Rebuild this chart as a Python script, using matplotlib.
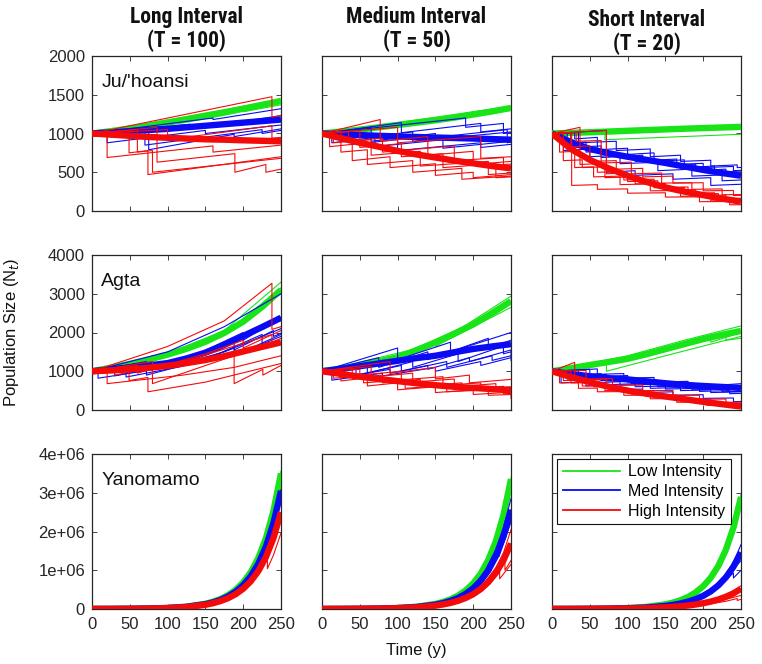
import matplotlib
matplotlib.use("Agg")
import matplotlib.pyplot as plt
from matplotlib.lines import Line2D
from matplotlib import font_manager

plt.rcParams['font.family'] = ['Liberation Sans', 'DejaVu Sans']

# ---------------- data ----------------
COL_TITLES = ["Long Interval\n(T = 100)", "Medium Interval\n(T = 50)", "Short Interval\n(T = 20)"]
ROW_NAMES = ["Ju/'hoansi", "Agta", "Yanomamo"]
SERIES_LABELS = ["Low Intensity", "Med Intensity", "High Intensity"]
X_TICKS = [0, 50, 100, 150, 200, 250]
Y_TICKS_ROW = [[0, 500, 1000, 1500, 2000],
               [0, 1000, 2000, 3000, 4000],
               [0, 1e6, 2e6, 3e6, 4e6]]
Y_TICKLABELS_ROW = [["0", "500", "1000", "1500", "2000"],
                    ["0", "1000", "2000", "3000", "4000"],
                    ["0", "1e+06", "2e+06", "3e+06", "4e+06"]]

T_GRID = [0, 25, 50, 75, 100, 125, 150, 175, 200, 225, 250]
YANO_T = [0, 25, 50, 75, 100, 125, 150, 160, 170, 180, 190, 200, 210, 220, 230, 240, 250]

# Ju/'hoansi  (mean trajectories)
JU_LONG_LOW = [1000, 1030, 1065, 1100, 1140, 1180, 1225, 1270, 1320, 1370, 1420]
JU_LONG_MED = [1000, 1015, 1030, 1045, 1060, 1080, 1100, 1120, 1140, 1160, 1180]
JU_LONG_HIGH = [1000, 985, 970, 955, 945, 935, 925, 920, 912, 906, 900]
JU_MED_LOW = [1000, 1025, 1050, 1080, 1110, 1140, 1170, 1205, 1245, 1285, 1330]
JU_MED_MED = [1000, 990, 980, 970, 962, 955, 948, 942, 935, 928, 920]
JU_MED_HIGH = [1000, 940, 880, 830, 775, 730, 690, 650, 615, 580, 550]
JU_SHORT_LOW = [1000, 1008, 1016, 1025, 1035, 1044, 1053, 1062, 1070, 1078, 1085]
JU_SHORT_MED = [1000, 890, 800, 745, 700, 660, 620, 575, 530, 490, 455]
JU_SHORT_HIGH = [1000, 800, 660, 550, 455, 375, 305, 250, 205, 160, 120]

# Agta
AG_LONG_LOW = [1000, 1090, 1190, 1300, 1430, 1580, 1760, 1990, 2280, 2660, 3100]
AG_LONG_MED = [1000, 1050, 1100, 1150, 1210, 1330, 1480, 1680, 1910, 2140, 2380]
AG_LONG_HIGH = [1000, 1020, 1050, 1090, 1140, 1210, 1290, 1390, 1510, 1630, 1745]
AG_MED_LOW = [1000, 1070, 1150, 1250, 1360, 1540, 1745, 1970, 2210, 2500, 2810]
AG_MED_MED = [1000, 1060, 1130, 1200, 1270, 1340, 1400, 1490, 1575, 1640, 1700]
AG_MED_HIGH = [1000, 930, 860, 800, 745, 690, 640, 600, 570, 540, 510]
AG_SHORT_LOW = [1000, 1080, 1160, 1240, 1320, 1440, 1570, 1700, 1830, 1940, 2040]
AG_SHORT_MED = [1000, 930, 870, 820, 790, 740, 690, 650, 620, 595, 570]
AG_SHORT_HIGH = [1000, 850, 720, 600, 500, 420, 350, 280, 210, 150, 90]

# Yanomamo
YA_LONG_LOW = [1000, 2270, 5130, 11600, 26200, 59300, 134000, 186000, 257000, 357000, 494000,
               685000, 949000, 1315000, 1823000, 2526000, 3500000]
YA_LONG_MED = [1000, 2240, 4990, 11130, 24800, 55300, 123400, 170000, 234000, 323000, 445000,
               613000, 845000, 1165000, 1606000, 2213000, 3050000]
YA_LONG_HIGH = [1000, 2190, 4780, 10460, 22870, 50000, 109400, 149600, 205000, 280000, 382000,
                523000, 715000, 978000, 1337000, 1828000, 2500000]
YA_MED_LOW = [1000, 2255, 5080, 11430, 25730, 57900, 130400, 180400, 249600, 345000, 478000,
              661000, 914000, 1265000, 1750000, 2421000, 3350000]
YA_MED_MED = [1000, 2196, 4810, 10540, 23100, 50600, 110900, 151800, 207700, 284000, 389000,
              533000, 729000, 998000, 1366000, 1870000, 2560000]
YA_MED_HIGH = [1000, 2103, 4420, 9300, 19560, 41140, 86500, 116500, 156800, 211000, 284100,
               382400, 514700, 692900, 932700, 1255500, 1690000]
YA_SHORT_LOW = [1000, 2236, 4955, 10980, 24330, 53900, 119500, 164300, 225900, 310700, 427300,
                587600, 808000, 1111000, 1528000, 2101500, 2890000]
YA_SHORT_MED = [1000, 2080, 4310, 8930, 18500, 38300, 79300, 106200, 142100, 190100, 254300,
                340300, 455400, 609400, 815400, 1091100, 1460000]
YA_SHORT_HIGH = [1000, 1877, 3505, 6550, 12230, 22850, 42700, 54800, 70400, 90300, 116000,
                 149000, 191300, 245600, 315400, 405000, 520000]

# individual simulation runs: (time, population) breakpoints
JU_LONG_LOW_RUNS = [
    [(0, 1000), (250, 1440)],
    [(0, 1000), (120, 1180), (120, 1150), (250, 1400)],
    [(0, 1000), (200, 1310), (200, 1280), (250, 1370)],
]
JU_LONG_MED_RUNS = [
    [(0, 1000), (20, 1010), (20, 880), (150, 1040), (150, 1000), (250, 1110)],
    [(0, 1000), (75, 1070), (75, 790), (188, 990), (188, 960), (250, 1060)],
    [(0, 1000), (70, 1060), (70, 850), (225, 1050), (225, 1000), (250, 1040)],
    [(0, 1000), (160, 1200), (160, 1180), (250, 1320)],
    [(0, 1000), (130, 1120), (130, 1060), (250, 1230)],
]
JU_LONG_HIGH_RUNS = [
    [(0, 1000), (238, 1475), (238, 1210), (250, 1235)],
    [(0, 1000), (20, 1010), (20, 690), (160, 840), (160, 760), (250, 850)],
    [(0, 1000), (49, 1040), (49, 750), (74, 780), (74, 470), (250, 700)],
    [(0, 1000), (86, 1080), (86, 630), (189, 740), (189, 500), (230, 600), (230, 500), (250, 540)],
    [(0, 1000), (100, 1050), (100, 920), (238, 1100), (238, 940), (250, 950)],
    [(0, 1000), (60, 1050), (60, 760), (80, 780), (80, 500), (250, 680)],
]
JU_MED_LOW_RUNS = [
    [(0, 1000), (250, 1350)],
    [(0, 1000), (160, 1210), (160, 1180), (250, 1300)],
    [(0, 1000), (140, 1190), (140, 1150), (250, 1320)],
]
JU_MED_MED_RUNS = [
    [(0, 1000), (13, 1010), (13, 880), (70, 950), (70, 830), (160, 920), (160, 810), (250, 900)],
    [(0, 1000), (40, 1040), (40, 860), (100, 920), (100, 780), (210, 880), (210, 820), (250, 860)],
    [(0, 1000), (105, 1140), (105, 1010), (210, 1130), (210, 1020), (250, 1060)],
    [(0, 1000), (65, 1080), (65, 900), (150, 1000), (150, 950), (245, 1050), (245, 880), (250, 890)],
    [(0, 1000), (30, 1020), (30, 930), (120, 1020), (120, 900), (250, 1020)],
    [(0, 1000), (190, 1200), (190, 1080), (240, 1130), (240, 1000), (250, 1010)],
]
JU_MED_HIGH_RUNS = [
    [(0, 1000), (10, 1010), (10, 830), (40, 860), (40, 650), (90, 700), (90, 560), (150, 610),
     (150, 460), (200, 500), (200, 430), (250, 470)],
    [(0, 1000), (77, 1180), (77, 900), (140, 960), (140, 720), (200, 770), (200, 600), (250, 640)],
    [(0, 1000), (25, 1030), (25, 760), (60, 790), (60, 600), (120, 650), (120, 500), (185, 550),
     (185, 410), (250, 450)],
    [(0, 1000), (50, 1040), (50, 820), (105, 870), (105, 700), (160, 740), (160, 560), (230, 610),
     (230, 430), (250, 440)],
    [(0, 1000), (35, 1020), (35, 900), (80, 940), (80, 760), (175, 840), (175, 650), (240, 690),
     (240, 600), (250, 605)],
    [(0, 1000), (100, 1080), (100, 880), (210, 960), (210, 680), (250, 700)],
    [(0, 1000), (15, 1010), (15, 880), (65, 920), (65, 720), (130, 770), (130, 580), (220, 640),
     (220, 470), (250, 490)],
]
JU_SHORT_LOW_RUNS = [
    [(0, 1000), (250, 1110)],
    [(0, 1000), (70, 1030), (70, 920), (250, 990)],
    [(0, 1000), (130, 1060), (130, 1020), (250, 1070)],
    [(0, 1000), (190, 1090), (190, 1050), (250, 1070)],
    [(0, 1000), (250, 1060)],
]
JU_SHORT_MED_RUNS = [
    [(0, 1000), (20, 1010), (20, 870), (45, 890), (45, 760), (75, 780), (75, 700), (110, 720),
     (110, 640), (150, 660), (150, 590), (190, 605), (190, 520), (230, 540), (230, 470), (250, 480)],
    [(0, 1000), (30, 1010), (30, 930), (60, 950), (60, 790), (100, 810), (100, 730), (135, 750),
     (135, 640), (175, 660), (175, 560), (215, 580), (215, 500), (250, 515)],
    [(0, 1000), (72, 1040), (72, 500), (110, 520), (110, 460), (160, 480), (160, 410), (210, 430),
     (210, 330), (250, 345)],
    [(0, 1000), (25, 1010), (25, 820), (65, 840), (65, 690), (120, 720), (120, 650), (165, 670),
     (165, 600), (200, 615), (200, 560), (240, 575), (240, 520), (250, 525)],
    [(0, 1000), (15, 1005), (15, 780), (50, 800), (50, 700), (90, 720), (90, 610), (140, 630),
     (140, 520), (185, 540), (185, 450), (225, 465), (225, 390), (250, 400)],
    [(0, 1000), (35, 1015), (35, 880), (85, 900), (85, 780), (130, 800), (130, 700), (170, 720),
     (170, 640), (210, 655), (210, 580), (245, 595), (245, 560), (250, 562)],
]
JU_SHORT_HIGH_RUNS = [
    [(0, 1000), (10, 1005), (10, 760), (30, 770), (30, 560), (55, 570), (55, 440), (90, 450),
     (90, 340), (130, 350), (130, 260), (170, 265), (170, 190), (210, 195), (210, 130), (250, 135)],
    [(0, 1000), (37, 1080), (37, 600), (60, 610), (60, 500), (95, 510), (95, 400), (135, 410),
     (135, 300), (180, 310), (180, 220), (220, 225), (220, 150), (250, 152)],
    [(0, 1000), (72, 1040), (72, 480), (100, 490), (100, 380), (140, 390), (140, 300), (175, 305),
     (175, 230), (215, 235), (215, 160), (250, 165)],
    [(0, 1000), (26, 1010), (26, 330), (60, 340), (60, 280), (100, 285), (100, 230), (150, 235),
     (150, 180), (195, 182), (195, 120), (235, 122), (235, 80), (250, 81)],
    [(0, 1000), (25, 1010), (25, 830), (50, 840), (50, 640), (85, 650), (85, 540), (120, 550),
     (120, 440), (160, 450), (160, 360), (200, 365), (200, 260), (240, 265), (240, 200), (250, 202)],
    [(0, 1000), (15, 1005), (15, 650), (40, 660), (40, 560), (70, 570), (70, 430), (110, 440),
     (110, 350), (150, 355), (150, 270), (190, 275), (190, 200), (230, 205), (230, 140), (250, 142)],
    [(0, 1000), (32, 1020), (32, 900), (65, 910), (65, 620), (105, 630), (105, 480), (145, 490),
     (145, 360), (185, 365), (185, 280), (225, 285), (225, 210), (250, 212)],
]

AG_LONG_LOW_RUNS = [
    [(0, 1000), (100, 1460), (175, 2050), (250, 3300)],
    [(0, 1000), (100, 1400), (175, 1960), (250, 3000)],
    [(0, 1000), (100, 1440), (170, 1950), (170, 1880), (250, 3150)],
]
AG_LONG_MED_RUNS = [
    [(0, 1000), (8, 1010), (8, 820), (100, 1100), (175, 1500), (250, 2100)],
    [(0, 1000), (45, 1100), (45, 850), (120, 1130), (188, 1600), (188, 1400), (250, 1950)],
    [(0, 1000), (72, 1250), (72, 900), (150, 1300), (225, 1950), (225, 1700), (250, 1900)],
    [(0, 1000), (100, 1500), (175, 2150), (250, 3000)],
    [(0, 1000), (30, 1080), (30, 880), (110, 1200), (188, 1800), (188, 1550), (240, 2050),
     (240, 1900), (250, 1980)],
    [(0, 1000), (60, 1200), (60, 1000), (140, 1450), (200, 2000), (200, 1800), (250, 2400)],
]
AG_LONG_HIGH_RUNS = [
    [(0, 1000), (100, 1640), (175, 2300), (238, 3270), (238, 2080), (250, 2150)],
    [(0, 1000), (20, 1020), (20, 680), (120, 900), (188, 1100), (250, 1400)],
    [(0, 1000), (80, 1250), (80, 680), (188, 1400), (188, 680), (226, 1050), (226, 900), (250, 1150)],
    [(0, 1000), (49, 1150), (49, 760), (74, 840), (74, 470), (150, 720), (250, 1200)],
    [(0, 1000), (60, 1150), (60, 950), (150, 1450), (200, 1800), (200, 1600), (250, 2050)],
    [(0, 1000), (30, 1050), (30, 900), (130, 1300), (238, 1950), (238, 1750), (250, 1850)],
]
AG_MED_LOW_RUNS = [
    [(0, 1000), (100, 1420), (175, 2000), (250, 2940)],
    [(0, 1000), (150, 1700), (150, 1640), (250, 2650)],
    [(0, 1000), (100, 1380), (200, 2250), (200, 2150), (250, 2750)],
]
AG_MED_MED_RUNS = [
    [(0, 1000), (13, 1020), (13, 770), (80, 950), (80, 880), (150, 1100), (150, 1000), (210, 1250),
     (210, 1150), (250, 1350)],
    [(0, 1000), (45, 1100), (45, 900), (105, 1150), (105, 1000), (165, 1250), (165, 1100),
     (225, 1400), (225, 1280), (250, 1400)],
    [(0, 1000), (100, 1600), (100, 1300), (170, 1750), (170, 1500), (250, 2000)],
    [(0, 1000), (30, 1050), (30, 850), (90, 1050), (90, 950), (140, 1150), (140, 1050), (195, 1350),
     (195, 1250), (250, 1550), (250, 1280)],
    [(0, 1000), (60, 1200), (60, 950), (120, 1250), (120, 1100), (180, 1450), (180, 1250),
     (240, 1650), (240, 1450), (250, 1500)],
    [(0, 1000), (75, 1350), (75, 1100), (140, 1500), (140, 1300), (220, 1850), (220, 1600), (250, 1800)],
]
AG_MED_HIGH_RUNS = [
    [(0, 1000), (25, 1050), (25, 750), (60, 830), (60, 620), (100, 700), (100, 520), (150, 600),
     (150, 450), (200, 520), (200, 400), (250, 460)],
    [(0, 1000), (40, 1100), (40, 830), (80, 900), (80, 700), (130, 790), (130, 620), (185, 700),
     (185, 540), (240, 610), (240, 420), (250, 430)],
    [(0, 1000), (90, 1250), (90, 950), (150, 1100), (150, 800), (195, 900), (195, 700), (250, 790)],
    [(0, 1000), (15, 1020), (15, 820), (55, 880), (55, 700), (110, 780), (110, 560), (165, 630),
     (165, 470), (220, 520), (220, 380), (250, 400)],
    [(0, 1000), (65, 1120), (65, 850), (120, 950), (120, 720), (175, 800), (175, 600), (230, 680),
     (230, 500), (250, 520)],
    [(0, 1000), (50, 1050), (50, 900), (105, 1000), (105, 780), (160, 860), (160, 640), (210, 700),
     (210, 560), (250, 600), (250, 300)],
]
AG_SHORT_LOW_RUNS = [
    [(0, 1000), (100, 1400), (175, 1800), (250, 2170)],
    [(0, 1000), (60, 1200), (60, 1150), (150, 1600), (210, 1850), (210, 1750), (250, 2000)],
    [(0, 1000), (100, 1350), (180, 1750), (230, 2000), (230, 1800), (250, 1850)],
    [(0, 1000), (72, 1200), (72, 1000), (150, 1400), (250, 1900)],
]
AG_SHORT_MED_RUNS = [
    [(0, 1000), (20, 1005), (20, 800), (50, 830), (50, 700), (90, 730), (90, 640), (130, 660),
     (130, 560), (170, 580), (170, 500), (210, 520), (210, 450), (250, 470)],
    [(0, 1000), (35, 1020), (35, 880), (72, 920), (72, 650), (110, 680), (110, 600), (150, 620),
     (150, 540), (195, 560), (195, 480), (235, 500), (235, 420), (250, 430)],
    [(0, 1000), (12, 1005), (12, 700), (45, 730), (45, 620), (80, 640), (80, 520), (120, 540),
     (120, 450), (160, 470), (160, 380), (200, 395), (200, 300), (240, 310), (240, 215), (250, 220)],
    [(0, 1000), (50, 1050), (50, 850), (100, 890), (100, 720), (150, 760), (150, 640), (190, 670),
     (190, 600), (250, 680)],
    [(0, 1000), (25, 1010), (25, 900), (65, 940), (65, 760), (105, 790), (105, 680), (140, 700),
     (140, 600), (185, 620), (185, 520), (225, 540), (225, 470), (250, 480)],
    [(0, 1000), (60, 1060), (60, 920), (95, 940), (95, 820), (135, 840), (135, 720), (180, 740),
     (180, 620), (220, 640), (220, 540), (250, 560)],
]
AG_SHORT_HIGH_RUNS = [
    [(0, 1000), (15, 1005), (15, 760), (40, 770), (40, 620), (70, 630), (70, 500), (105, 505),
     (105, 410), (140, 415), (140, 320), (180, 322), (180, 240), (215, 242), (215, 160), (250, 162)],
    [(0, 1000), (30, 1230), (30, 780), (72, 800), (72, 560), (100, 565), (100, 450), (135, 455),
     (135, 360), (170, 362), (170, 260), (210, 262), (210, 170), (250, 172)],
    [(0, 1000), (10, 1002), (10, 700), (35, 705), (35, 560), (60, 565), (60, 470), (95, 475),
     (95, 380), (130, 382), (130, 290), (165, 292), (165, 200), (205, 202), (205, 120), (240, 121),
     (240, 60), (250, 61)],
    [(0, 1000), (45, 1020), (45, 800), (80, 810), (80, 640), (120, 645), (120, 500), (160, 505),
     (160, 380), (195, 382), (195, 280), (230, 282), (230, 200), (250, 201)],
    [(0, 1000), (25, 1008), (25, 700), (55, 705), (55, 600), (90, 605), (90, 480), (125, 485),
     (125, 380), (165, 383), (165, 280), (200, 282), (200, 190), (240, 192), (240, 100), (250, 101)],
]

YA_LONG_LOW_RUNS = [
    [(0, 1000), (100, 26500), (150, 136000), (175, 300000), (200, 700000), (215, 1130000),
     (230, 1850000), (240, 2570000), (250, 3560000)],
    [(0, 1000), (100, 25800), (150, 132000), (175, 290000), (200, 670000), (215, 1090000),
     (230, 1790000), (240, 2480000), (250, 3440000)],
]
YA_LONG_MED_RUNS = [
    [(0, 1000), (100, 25000), (150, 124000), (175, 275000), (200, 615000), (215, 990000),
     (230, 1610000), (240, 2220000), (250, 3080000)],
    [(0, 1000), (100, 24300), (150, 121000), (175, 268000), (200, 600000), (215, 965000),
     (230, 1570000), (240, 2170000), (250, 2990000)],
    [(0, 1000), (100, 24600), (150, 122000), (175, 270000), (200, 605000), (215, 975000),
     (230, 1590000), (238, 2040000), (238, 1800000), (250, 2420000)],
]
YA_LONG_HIGH_RUNS = [
    [(0, 1000), (100, 23000), (150, 110000), (175, 240000), (200, 525000), (215, 840000),
     (232, 1450000), (232, 1040000), (240, 1390000), (250, 1960000)],
    [(0, 1000), (100, 22500), (150, 108000), (175, 236000), (200, 515000), (215, 825000),
     (230, 1310000), (240, 1800000), (250, 2470000)],
]
YA_MED_LOW_RUNS = [
    [(0, 1000), (100, 26000), (150, 131000), (175, 290000), (200, 665000), (215, 1080000),
     (230, 1760000), (240, 2440000), (250, 3380000)],
    [(0, 1000), (100, 25400), (150, 128000), (175, 283000), (200, 650000), (215, 1055000),
     (230, 1720000), (240, 2380000), (250, 3300000)],
]
YA_MED_MED_RUNS = [
    [(0, 1000), (100, 24500), (150, 120000), (175, 262000), (200, 590000), (215, 960000),
     (230, 1540000), (240, 2100000), (250, 2850000)],
    [(0, 1000), (100, 23200), (150, 111000), (175, 243000), (200, 535000), (215, 860000),
     (230, 1370000), (240, 1870000), (250, 2560000)],
    [(0, 1000), (100, 23000), (150, 110000), (175, 240000), (200, 530000), (215, 850000),
     (234, 1560000), (234, 1350000), (250, 2250000)],
]
YA_MED_HIGH_RUNS = [
    [(0, 1000), (100, 19600), (150, 87000), (175, 181000), (200, 384000), (215, 600000),
     (230, 935000), (240, 1260000), (250, 1690000)],
    [(0, 1000), (100, 21000), (150, 95000), (175, 200000), (200, 430000), (215, 680000),
     (230, 1070000), (240, 1450000), (250, 2050000)],
    [(0, 1000), (100, 19000), (150, 84000), (175, 175000), (200, 370000), (215, 580000),
     (235, 1050000), (235, 780000), (250, 1150000)],
    [(0, 1000), (100, 19300), (150, 85000), (175, 178000), (200, 375000), (215, 590000),
     (230, 920000), (242, 1300000), (242, 1000000), (250, 1250000)],
]
YA_SHORT_LOW_RUNS = [
    [(0, 1000), (100, 24800), (150, 122000), (175, 268000), (200, 600000), (215, 950000),
     (230, 1560000), (240, 2150000), (250, 2960000)],
    [(0, 1000), (100, 24000), (150, 117000), (175, 258000), (200, 578000), (215, 925000),
     (230, 1500000), (240, 2060000), (250, 2840000)],
]
YA_SHORT_MED_RUNS = [
    [(0, 1000), (100, 19500), (150, 86000), (175, 178000), (200, 375000), (215, 580000),
     (230, 900000), (240, 1210000), (250, 1660000)],
    [(0, 1000), (100, 18000), (150, 78000), (175, 160000), (200, 335000), (215, 520000),
     (230, 800000), (240, 1070000), (250, 1450000)],
    [(0, 1000), (100, 17500), (150, 75000), (175, 152000), (200, 318000), (215, 490000),
     (230, 760000), (240, 930000), (240, 800000), (250, 1000000)],
    [(0, 1000), (100, 18000), (150, 77000), (175, 158000), (200, 330000), (215, 505000),
     (230, 780000), (240, 1020000), (250, 1250000)],
]
YA_SHORT_HIGH_RUNS = [
    [(0, 1000), (100, 13000), (150, 46000), (175, 82000), (200, 160000), (215, 225000),
     (230, 345000), (240, 450000), (250, 600000)],
    [(0, 1000), (100, 12000), (150, 42000), (175, 74000), (200, 145000), (215, 210000),
     (230, 310000), (240, 400000), (250, 520000)],
    [(0, 1000), (100, 11500), (150, 39000), (175, 66000), (200, 125000), (215, 175000),
     (230, 250000), (240, 300000), (250, 350000)],
    [(0, 1000), (100, 11000), (150, 36000), (175, 60000), (200, 110000), (215, 150000),
     (230, 200000), (245, 270000), (245, 220000), (250, 250000)],
]

# ---------------- styling ----------------
COLORS = ['#18e418', '#0a0af5', '#f50a0a']
INK = '#262626'

PANELS = [
    [(T_GRID, [JU_LONG_LOW, JU_LONG_MED, JU_LONG_HIGH], [JU_LONG_LOW_RUNS, JU_LONG_MED_RUNS, JU_LONG_HIGH_RUNS]),
     (T_GRID, [JU_MED_LOW, JU_MED_MED, JU_MED_HIGH], [JU_MED_LOW_RUNS, JU_MED_MED_RUNS, JU_MED_HIGH_RUNS]),
     (T_GRID, [JU_SHORT_LOW, JU_SHORT_MED, JU_SHORT_HIGH], [JU_SHORT_LOW_RUNS, JU_SHORT_MED_RUNS, JU_SHORT_HIGH_RUNS])],
    [(T_GRID, [AG_LONG_LOW, AG_LONG_MED, AG_LONG_HIGH], [AG_LONG_LOW_RUNS, AG_LONG_MED_RUNS, AG_LONG_HIGH_RUNS]),
     (T_GRID, [AG_MED_LOW, AG_MED_MED, AG_MED_HIGH], [AG_MED_LOW_RUNS, AG_MED_MED_RUNS, AG_MED_HIGH_RUNS]),
     (T_GRID, [AG_SHORT_LOW, AG_SHORT_MED, AG_SHORT_HIGH], [AG_SHORT_LOW_RUNS, AG_SHORT_MED_RUNS, AG_SHORT_HIGH_RUNS])],
    [(YANO_T, [YA_LONG_LOW, YA_LONG_MED, YA_LONG_HIGH], [YA_LONG_LOW_RUNS, YA_LONG_MED_RUNS, YA_LONG_HIGH_RUNS]),
     (YANO_T, [YA_MED_LOW, YA_MED_MED, YA_MED_HIGH], [YA_MED_LOW_RUNS, YA_MED_MED_RUNS, YA_MED_HIGH_RUNS]),
     (YANO_T, [YA_SHORT_LOW, YA_SHORT_MED, YA_SHORT_HIGH], [YA_SHORT_LOW_RUNS, YA_SHORT_MED_RUNS, YA_SHORT_HIGH_RUNS])],
]

# pick a condensed bold face for the column titles if one is installed
_available = {f.name for f in font_manager.fontManager.ttflist}
TITLE_FAMILY = None
for cand in ['Liberation Sans Narrow', 'Roboto Condensed', 'DejaVu Sans Condensed',
             'Open Sans Condensed', 'Noto Sans Condensed']:
    if cand in _available:
        TITLE_FAMILY = cand
        break
if TITLE_FAMILY is None:
    TITLE_FAMILY = 'DejaVu Sans'
    TITLE_STRETCH = 'condensed'
else:
    TITLE_STRETCH = 'normal'

W, H = 762, 664
fig = plt.figure(figsize=(W / 100, H / 100), dpi=100)

LEFTS_PX = [92, 322, 552]
TOPS_PX = [56, 255, 454]
AX_W_PX, AX_H_PX = 189, 155

axes = []
for r in range(3):
    row = []
    for c in range(3):
        ax = fig.add_axes([LEFTS_PX[c] / W, 1 - (TOPS_PX[r] + AX_H_PX) / H, AX_W_PX / W, AX_H_PX / H])
        tgrid, means, runs = PANELS[r][c]
        for k in range(3):
            for run in runs[k]:
                ts = [p[0] for p in run]
                vs = [p[1] for p in run]
                ax.plot(ts, vs, color=COLORS[k], lw=0.8, zorder=2 + 2 * k)
            ax.plot(tgrid, means[k], color=COLORS[k], lw=4.6, solid_capstyle='butt',
                    zorder=3 + 2 * k)
        ax.set_xlim(0, 250)
        ax.set_ylim(Y_TICKS_ROW[r][0], Y_TICKS_ROW[r][-1])
        ax.set_xticks(X_TICKS)
        ax.set_yticks(Y_TICKS_ROW[r])
        ax.tick_params(direction='in', top=True, right=True, length=3.5, width=0.6,
                       colors=INK, labelsize=12, labelcolor=INK)
        ax.tick_params(axis='x', pad=6)
        ax.tick_params(axis='y', pad=5)
        if c == 0:
            ax.set_yticklabels(Y_TICKLABELS_ROW[r])
        else:
            ax.set_yticklabels([])
        if r == 2:
            ax.set_xticklabels([str(v) for v in X_TICKS])
        else:
            ax.set_xticklabels([])
        for s in ax.spines.values():
            s.set_color(INK)
            s.set_linewidth(0.9)
        if c == 0:
            ax.text(0.05, 0.83, ROW_NAMES[r], transform=ax.transAxes, fontsize=14,
                    color='#111111', ha='left', va='center')
        row.append(ax)
    axes.append(row)

# column titles
TITLE_Y_PX = [(17, 41), (17, 41), (19.5, 44)]
for c, title in enumerate(COL_TITLES):
    l1, l2 = title.split("\n")
    xc = (LEFTS_PX[c] + AX_W_PX / 2) / W
    for line, ypx in zip((l1, l2), TITLE_Y_PX[c]):
        fig.text(xc, 1 - ypx / H, line, ha='center', va='center', fontsize=15.5,
                 fontweight='bold', family=[TITLE_FAMILY, 'DejaVu Sans'],
                 fontstretch=TITLE_STRETCH, color='#111111')

fig.text(12 / W, 1 - 332 / H, "Population Size (N$_t$)", rotation=90, ha='center',
         va='center', fontsize=12, color='#111111')
fig.text(416 / W, 1 - 651 / H, "Time (y)", ha='center', va='center', fontsize=12,
         color='#111111')

handles = [Line2D([], [], color=COLORS[k], lw=1.3) for k in range(3)]
leg = axes[2][2].legend(handles, SERIES_LABELS, loc='upper left',
                        bbox_to_anchor=(0.026, 0.97), fontsize=11.5, frameon=True,
                        fancybox=False, framealpha=1, edgecolor='#111111',
                        handlelength=3.6, handletextpad=0.5, labelspacing=0.3,
                        borderpad=0.35, borderaxespad=0)
leg.get_frame().set_linewidth(0.8)
leg.set_zorder(20)

fig.savefig("out.png", dpi=100, facecolor='white')
